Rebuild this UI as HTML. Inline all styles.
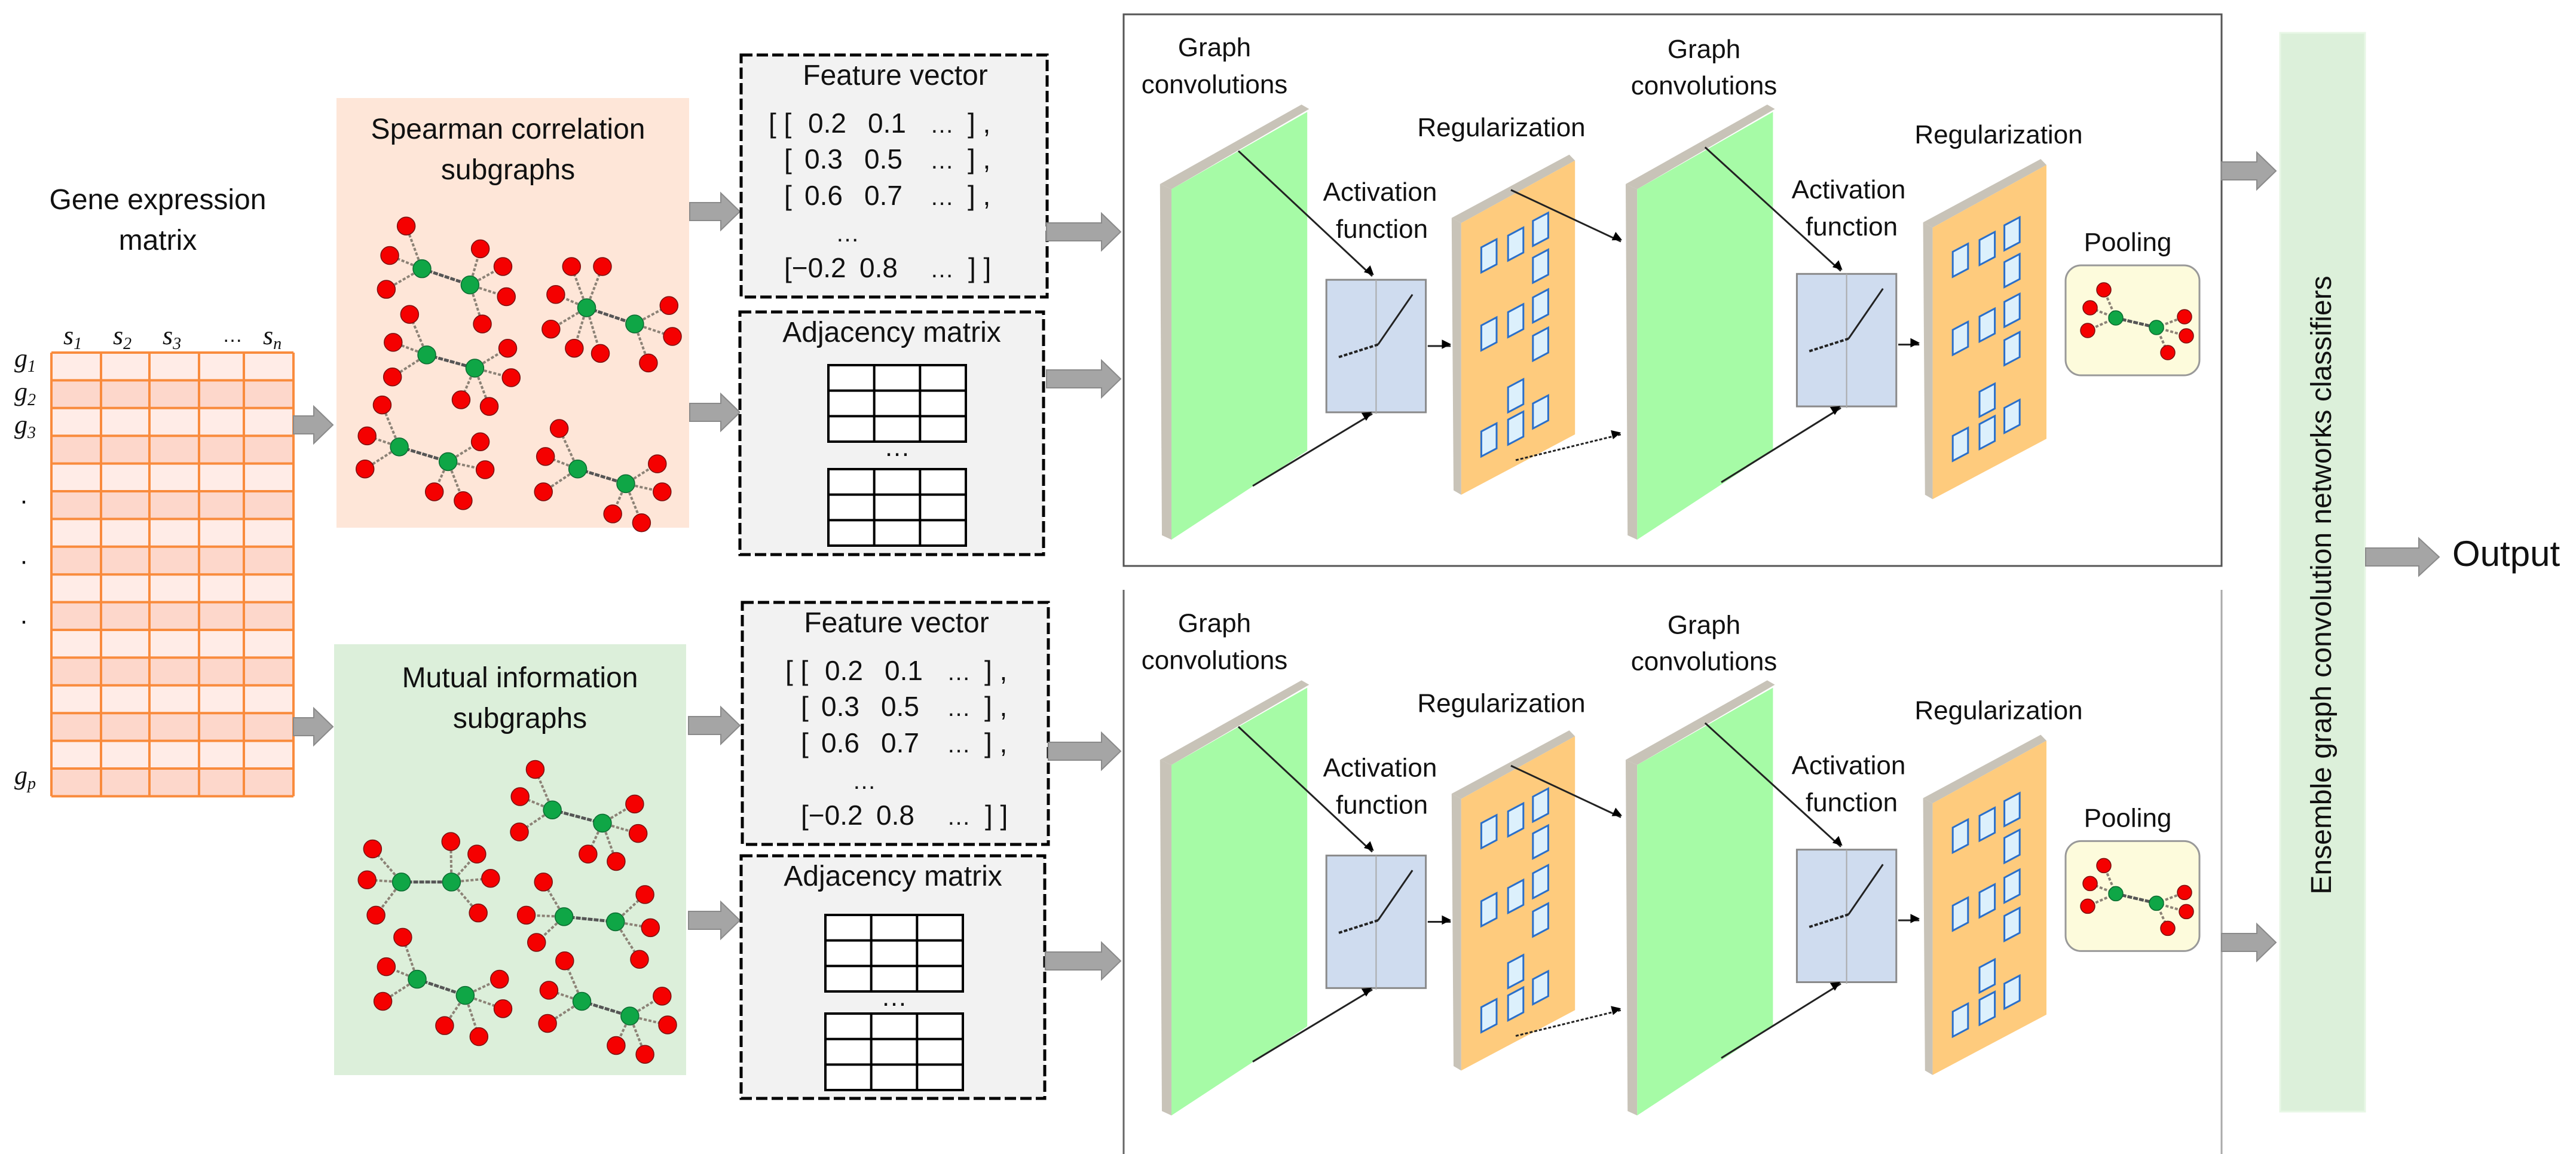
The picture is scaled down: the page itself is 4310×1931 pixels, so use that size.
<!DOCTYPE html>
<html><head><meta charset="utf-8">
<style>
html,body{margin:0;padding:0;background:#fff;}
svg{display:block;}
text{font-family:"Liberation Sans",sans-serif;fill:#111;}
.s{font-family:"Liberation Serif",serif;font-style:italic;font-size:44px;}
</style></head>
<body>
<svg id="S" width="4310" height="1931" viewBox="0 0 4310 1931" xmlns="http://www.w3.org/2000/svg">
<defs>
<marker id="ah" viewBox="0 0 10 10" refX="9" refY="5" markerWidth="6" markerHeight="6" orient="auto" markerUnits="userSpaceOnUse" style="overflow:visible">
<path d="M0,0 L10,5 L0,10 z" fill="#000" transform="scale(2.6) translate(-6,-5) translate(5,5) translate(-5,-5)"/>
</marker>
</defs>
<g id="G"></g>

<!-- Gene expression matrix labels -->
<text x="264" y="350" font-size="48" text-anchor="middle">Gene expression</text>
<text x="264" y="418" font-size="48" text-anchor="middle">matrix</text>
<text class="s" x="106" y="576">s<tspan font-size="28" dy="8">1</tspan></text>
<text class="s" x="189" y="576">s<tspan font-size="28" dy="8">2</tspan></text>
<text class="s" x="272" y="576">s<tspan font-size="28" dy="8">3</tspan></text>
<text x="372" y="572" font-size="34">…</text>
<text class="s" x="440" y="576">s<tspan font-size="28" dy="8">n</tspan></text>
<text class="s" x="24" y="614">g<tspan font-size="28" dy="8">1</tspan></text>
<text class="s" x="24" y="670">g<tspan font-size="28" dy="8">2</tspan></text>
<text class="s" x="24" y="725">g<tspan font-size="28" dy="8">3</tspan></text>
<text x="40" y="852" font-size="44" text-anchor="middle">·</text>
<text x="40" y="953" font-size="44" text-anchor="middle">·</text>
<text x="40" y="1053" font-size="44" text-anchor="middle">·</text>
<text class="s" x="24" y="1312">g<tspan font-size="28" dy="8">p</tspan></text>

<!-- Subgraph titles -->
<text x="850" y="232" font-size="48" text-anchor="middle">Spearman correlation</text>
<text x="850" y="300" font-size="48" text-anchor="middle">subgraphs</text>
<text x="870" y="1150" font-size="48" text-anchor="middle">Mutual information</text>
<text x="870" y="1218" font-size="48" text-anchor="middle">subgraphs</text>

<!-- Output -->
<text x="4103" y="947" font-size="60">Output</text>
<text transform="translate(3900,979) rotate(-90)" font-size="48" text-anchor="middle">Ensemble graph convolution networks classifiers</text>
</svg>
<script>
(function(){
var NS="http://www.w3.org/2000/svg";
var G=document.getElementById("G");
var S=document.getElementById("S");
function el(t,a,p){var e=document.createElementNS(NS,t);for(var k in a)e.setAttribute(k,a[k]);(p||G).appendChild(e);return e;}
function txt(x,y,s,fs,anchor){var e=el("text",{x:x,y:y,"font-size":fs,"text-anchor":anchor||"middle"},S);e.textContent=s;return e;}
// gray block arrow
function barrow(x1,x2,y,th,hh,hl){th=th||30;hh=hh||62;hl=hl||32;
 var hx=x2-hl;
 el("polygon",{points:[x1,y-th/2,hx,y-th/2,hx,y-hh/2,x2,y,hx,y+hh/2,hx,y+th/2,x1,y+th/2].join(","),fill:"#a5a5a5",stroke:"#8a8a8a","stroke-width":2});}
// Matrix
var cols=[86,169,250,333,408,491];
var top=590,rh=46.4;
for(var r=0;r<16;r++){
 var y=top+r*rh;
 el("rect",{x:86,y:y,width:405,height:rh,fill:(r%2==0)?"#ffece7":"#fdd7cb"});
}
for(var r=0;r<=16;r++){var y=top+r*rh;el("line",{x1:86,y1:y,x2:491,y2:y,stroke:"#f98b3d","stroke-width":4});}
for(var c=0;c<cols.length;c++){el("line",{x1:cols[c],y1:top,x2:cols[c],y2:top+16*rh,stroke:"#f98b3d","stroke-width":4});}
// Subgraph boxes
el("rect",{x:563,y:164,width:590,height:719,fill:"#fee6d8"});
el("rect",{x:559,y:1078,width:589,height:721,fill:"#dcefda"});
barrow(491,557,711);barrow(491,557,1216);
barrow(1154,1238,354);barrow(1154,1238,690);barrow(1152,1238,1214);barrow(1152,1238,1540);
// graph clusters (zoom1 coordinates)
var fx=function(x){return x*1.148;}, fy=function(y){return y*1.232;};
var clusters=[
 [[615,365],[685,387],[[592,307],[568,347],[563,393]],[[700,338],[733,362],[738,403],[703,440]]],
 [[855,418],[925,440],[[833,362],[878,362],[810,400],[803,447],[837,473],[875,480]],[[975,415],[980,457],[945,493]]],
 [[622,482],[692,500],[[597,427],[573,465],[572,512]],[[740,473],[745,513],[672,543],[713,552]]],
 [[582,607],[653,627],[[557,550],[535,592],[532,637]],[[700,600],[707,638],[633,668],[675,680]]],
 [[842,637],[912,657],[[815,582],[795,620],[792,668]],[[958,630],[965,668],[893,698],[935,710]]],
 [[805,1100],[878,1118],[[780,1045],[758,1082],[757,1130]],[[925,1092],[930,1132],[857,1160],[898,1170]]],
 [[585,1198],[658,1198],[[543,1153],[535,1195],[548,1243]],[[657,1143],[695,1160],[715,1193],[697,1240]]],
 [[822,1245],[897,1252],[[792,1198],[767,1243],[782,1280]],[[940,1215],[948,1260],[932,1303]]],
 [[608,1330],[678,1352],[[587,1273],[563,1313],[558,1360]],[[728,1330],[733,1370],[648,1393],[698,1408]]],
 [[848,1360],[918,1380],[[823,1305],[800,1345],[798,1390]],[[965,1353],[973,1392],[898,1420],[940,1432]]]
];
function drawCluster(g1,g2,r1,r2,tf,rad){
 var a=tf(g1),b=tf(g2);
 r1.forEach(function(p){var q=tf(p);el("line",{x1:a[0],y1:a[1],x2:q[0],y2:q[1],stroke:"#8c8276","stroke-width":4,"stroke-dasharray":"5,3"});});
 r2.forEach(function(p){var q=tf(p);el("line",{x1:b[0],y1:b[1],x2:q[0],y2:q[1],stroke:"#8c8276","stroke-width":4,"stroke-dasharray":"5,3"});});
 el("line",{x1:a[0],y1:a[1],x2:b[0],y2:b[1],stroke:"#555","stroke-width":5,"stroke-dasharray":"8,2"});
 r1.concat(r2).forEach(function(p){var q=tf(p);el("circle",{cx:q[0],cy:q[1],r:rad,fill:"#f50000",stroke:"#7a1010","stroke-width":1.5});});
 [a,b].forEach(function(q){el("circle",{cx:q[0],cy:q[1],r:rad,fill:"#0fa646",stroke:"#0b6b30","stroke-width":1.5});});
}
var tf1=function(p){return [fx(p[0]),fy(p[1])];};
clusters.forEach(function(c){drawCluster(c[0],c[1],c[2],c[3],tf1,15);});

// Feature vector / adjacency boxes
function dbox(x,y,w,h){el("rect",{x:x,y:y,width:w,height:h,fill:"#f2f2f2",stroke:"#000","stroke-width":5,"stroke-dasharray":"19,7"});}
function feature(x0,y0,dx){
 dbox(x0,y0,512,405);
 txt(x0+258,y0+50,"Feature vector",48);
 var rows=[["[ [",0],["[",26],["[",26]];
 var vals=[["0.2","0.1"],["0.3","0.5"],["0.6","0.7"]];
 var ys=[y0+130,y0+190,y0+251];
 for(var i=0;i<3;i++){
  var xs=x0+46+dx;
  txt(xs+rows[i][1],ys[i],rows[i][0],46,"start");
  txt(xs+66+(i?-6:0),ys[i],vals[i][0],46,"start");
  txt(xs+166+(i?-6:0),ys[i],vals[i][1],46,"start");
  txt(xs+270,ys[i],"…",40,"start");
  txt(xs+333,ys[i],"] ,",46,"start");
 }
 txt(x0+158+dx,y0+312,"…",40,"start");
 txt(x0+72+dx,y0+372,"[−0.2",46,"start");
 txt(x0+198+dx,y0+372,"0.8",46,"start");
 txt(x0+316+dx,y0+372,"…",40,"start");
 txt(x0+380+dx,y0+372,"] ]",46,"start");
}
function grid(x,y,w,h){
 el("rect",{x:x,y:y,width:w,height:h,fill:"#fff",stroke:"#000","stroke-width":4});
 for(var i=1;i<3;i++){el("line",{x1:x+w*i/3,y1:y,x2:x+w*i/3,y2:y+h,stroke:"#000","stroke-width":4});
  el("line",{x1:x,y1:y+h*i/3,x2:x+w,y2:y+h*i/3,stroke:"#000","stroke-width":4});}
}
function adj(x0,y0,gx,gy1,gy2){
 dbox(x0,y0,508,406);
 txt(x0+254,y0+50,"Adjacency matrix",48);
 grid(gx,gy1,230,128);
 txt(gx+115,gy1+152,"…",44);
 grid(gx,gy2,230,128);
}
feature(1240,92,0);
adj(1238,522,1386,611,785);
feature(1242,1008,26);
adj(1240,1432,1381,1531,1696);

// Panels
el("rect",{x:1880,y:24,width:1837,height:923,fill:"none",stroke:"#555","stroke-width":3});
el("line",{x1:1880,y1:987,x2:1880,y2:1931,stroke:"#666","stroke-width":3});
el("line",{x1:3717,y1:987,x2:3717,y2:1931,stroke:"#aaa","stroke-width":3});
barrow(1751,1875,388);barrow(1751,1875,634);barrow(1754,1875,1257);barrow(1749,1875,1608);
// ensemble bar
el("rect",{x:3815,y:55,width:142,height:1805,fill:"#dcf0da",stroke:"#e8f7e6","stroke-width":3});
barrow(3717,3808,286,30,62,32);barrow(3717,3808,1577,30,62,32);
barrow(3958,4081,932,30,63,34);

// panel contents in zoom2 display coords
var X=function(x){return 1800+x*1.6;}, Y=function(y){return y*1.232;};
function pts(a,dx,dy){var o=[];for(var i=0;i<a.length;i+=2){o.push(X(a[i]+dx)+","+Y(a[i+1]+dy));}return o.join(" ");}
function poly(a,dx,dy,f,s,sw){el("polygon",{points:pts(a,dx,dy),fill:f,stroke:s||"none","stroke-width":sw||0});}
function line(x1,y1,x2,y2,dx,dy,opt){var a={x1:X(x1+dx),y1:Y(y1+dy),x2:X(x2+dx),y2:Y(y2+dy),stroke:"#222","stroke-width":3};for(var k in opt)a[k]=opt[k];el("line",a);}
function conv(dx,dy){
 poly([88,250,236,142,244,148,100,257],dx,dy,"#c8c3b8");
 poly([88,250,100,257,100,733,90,727],dx,dy,"#c8c3b8");
 poly([100,257,242,152,242,612,100,733],dx,dy,"#a6fba6");
}
function reg(dx,dy){
 poly([393,296,516,210,522,218,403,303],dx,dy,"#c8c3b8");
 poly([393,296,403,303,403,672,395,666],dx,dy,"#c8c3b8");
 poly([403,303,522,218,522,590,403,672],dx,dy,"#fecb7d");
 var sq=[[424,336],[452,320],[478,300],[478,350],[424,442],[452,424],[478,404],[478,456],[452,526],[424,586],[452,570],[478,548]];
 sq.forEach(function(p){poly([p[0],p[1],p[0]+16,p[1]-11,p[0]+16,p[1]+23,p[0],p[1]+34],dx,dy,"#dcf0fc","#2a6fca",3);});
}
function act(dx,dy){
 el("rect",{x:X(262+dx),y:Y(380+dy),width:104*1.6,height:180*1.232,fill:"#cfdcef",stroke:"#8a8a8a","stroke-width":3});
 line(314,380,314,562,dx,dy,{stroke:"#aaa","stroke-width":2});
 line(275,485,316,468,dx,dy,{"stroke-dasharray":"6,3","stroke-width":4});
 line(316,468,352,400,dx,dy,{"stroke-width":3});
}
function stage(dx,dy,layer){
 // dx for second conv group
 conv(dx,dy);
}
function panel(dy){
 var ry=Y(dy)-0;
 // layer 1
 conv(0,dy); act(0,dy); reg(0,dy);
 conv(487,dy); act(492,dy-8); reg(493,dy+6);
 // arrows
 line(170,205,310,375,0,dy,{"marker-end":"url(#ah)"});
 line(185,660,310,562,0,dy,{"marker-end":"url(#ah)"});
 line(368,470,392,470,0,dy,{"marker-end":"url(#ah)"});
 line(455,258,570,328,0,dy,{"marker-end":"url(#ah)"});
 line(460,625,570,590,0,dy,{"marker-end":"url(#ah)","stroke-dasharray":"5,3"});
 line(658,200,800,368,0,dy,{"marker-end":"url(#ah)"});
 line(675,655,800,554,0,dy,{"marker-end":"url(#ah)"});
 line(860,468,882,468,0,dy,{"marker-end":"url(#ah)"});
 // pooling
 var py=Y(dy);
 el("rect",{x:3456,y:444+py,width:224,height:184,rx:26,fill:"#fdfbdc",stroke:"#999","stroke-width":3});
 var tfp=function(p){return [p[0],p[1]+py];};
 drawCluster([3540,532],[3608,548],[[3520,485],[3497,515],[3493,553]],[[3655,530],[3658,562],[3627,590]],tfp,12);
 // labels
 txt(2032,94+py,"Graph",44);txt(2032,156+py,"convolutions",44);
 txt(2309,336+py,"Activation",44);txt(2312,398+py,"function",44);
 txt(2512,228+py,"Regularization",44);
 txt(2851,97+py,"Graph",44);txt(2851,158+py,"convolutions",44);
 txt(3093,332+py,"Activation",44);txt(3098,394+py,"function",44);
 txt(3344,240+py,"Regularization",44);
 txt(3560,420+py,"Pooling",44);
}
panel(0);
panel(782);
})();
</script>
</body></html>
